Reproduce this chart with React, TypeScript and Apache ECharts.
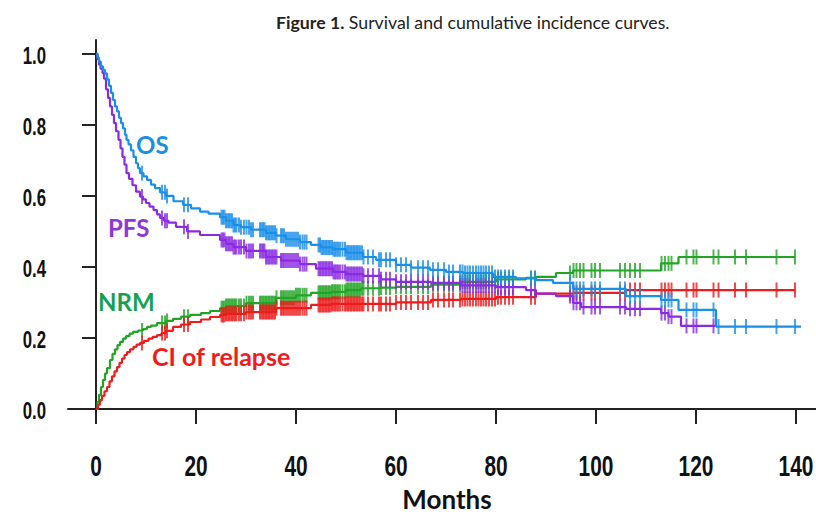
import React, { useEffect, useRef } from "react";
import * as echarts from "echarts";

const xTicks = [0, 20, 40, 60, 80, 100, 120, 140];
const yTicks = [0, 0.2, 0.4, 0.6, 0.8, 1.0];
const xTickLabels = ["0", "20", "40", "60", "80", "100", "120", "140"];
const yTickLabels = ["0.0", "0.2", "0.4", "0.6", "0.8", "1.0"];

const osData: [number, number][] = [
  [0, 1.0], [0.3, 0.99], [0.6, 0.978], [1, 0.965], [1.4, 0.955], [1.8, 0.945], [2.2, 0.928],
  [2.6, 0.91], [3, 0.89], [3.4, 0.87], [3.8, 0.852], [4.2, 0.838], [4.6, 0.82], [5, 0.805],
  [5.4, 0.79], [5.8, 0.772], [6.1, 0.758], [6.5, 0.745], [7, 0.728], [7.5, 0.71], [8, 0.692],
  [8.4, 0.678], [8.8, 0.664], [9.5, 0.655], [10.2, 0.645], [11, 0.632], [11.8, 0.622], [12.8, 0.61],
  [14, 0.6], [15.5, 0.585], [17.4, 0.575], [19, 0.565], [20.8, 0.556], [22.5, 0.55],
  [24.8, 0.54], [26, 0.53], [27.5, 0.518], [29, 0.512], [31, 0.505], [34, 0.496], [36, 0.488],
  [38, 0.478], [40.8, 0.47], [43, 0.462], [45, 0.455], [47.4, 0.45], [50, 0.44], [53.4, 0.428],
  [56, 0.42], [60, 0.406], [63, 0.398], [66.8, 0.392], [70, 0.386], [73.4, 0.383], [79.4, 0.372],
  [84, 0.368], [88, 0.363], [91.4, 0.355], [95.4, 0.338], [106, 0.318], [113, 0.307], [116.5, 0.279],
  [124, 0.232], [141, 0.232],
];

const pfsData: [number, number][] = [
  [0, 1.0], [0.3, 0.985], [0.6, 0.97], [0.9, 0.958], [1.3, 0.946], [1.6, 0.93], [2, 0.9],
  [2.4, 0.876], [2.8, 0.852], [3.2, 0.828], [3.6, 0.805], [4, 0.782], [4.5, 0.758], [4.9, 0.734],
  [5.3, 0.71], [5.7, 0.688], [6.1, 0.664], [6.6, 0.648], [7.3, 0.63], [8, 0.612], [8.8, 0.598],
  [9.4, 0.59], [10, 0.58], [10.7, 0.57], [11.5, 0.56], [12.2, 0.548], [12.8, 0.538], [13.6, 0.53],
  [14.5, 0.525], [16, 0.513], [18.2, 0.5], [20.8, 0.49], [24.8, 0.476], [26, 0.465],
  [27.5, 0.456], [30, 0.445], [34, 0.428], [37, 0.418], [40.8, 0.408], [44, 0.395], [47.4, 0.386],
  [50, 0.38], [53.4, 0.375], [57, 0.365], [60, 0.358], [67, 0.355], [73, 0.348], [80, 0.343],
  [86, 0.335], [88, 0.325], [92, 0.318], [95.4, 0.299], [97, 0.287], [106, 0.282], [113, 0.27],
  [114.5, 0.26], [117, 0.234], [124, 0.234],
];

const nrmData: [number, number][] = [
  [0, 0], [0.3, 0.02], [0.6, 0.04], [1, 0.062], [1.4, 0.082], [1.8, 0.1], [2.2, 0.115],
  [2.8, 0.138], [3.3, 0.155], [3.8, 0.168], [4.3, 0.18], [4.8, 0.189], [5.4, 0.198], [6, 0.205],
  [6.7, 0.212], [7.4, 0.217], [8.4, 0.221], [9.4, 0.225], [10.2, 0.231], [11, 0.235], [12.2, 0.242],
  [14, 0.248], [15.4, 0.254], [17, 0.26], [18.8, 0.265], [21, 0.27], [22.8, 0.276], [24.8, 0.284],
  [26, 0.29], [30, 0.298], [36, 0.313], [40, 0.32], [43, 0.327], [47, 0.33], [50, 0.335], [53, 0.34],
  [57, 0.342], [60, 0.344], [67, 0.35], [73, 0.358], [80, 0.365], [86, 0.369], [88, 0.372], [92, 0.383],
  [95.4, 0.39], [113, 0.41], [116.5, 0.428], [139.8, 0.428],
];

const relapseData: [number, number][] = [
  [0, 0], [0.4, 0.012], [0.8, 0.025], [1.2, 0.037], [1.7, 0.05], [2.2, 0.062], [2.7, 0.078],
  [3.2, 0.092], [3.7, 0.106], [4.2, 0.118], [4.7, 0.13], [5.2, 0.142], [5.7, 0.152], [6.2, 0.16],
  [6.8, 0.168], [7.5, 0.175], [8.1, 0.181], [8.8, 0.186], [9.6, 0.192], [10.5, 0.198], [11.3, 0.203],
  [12.2, 0.208], [13.1, 0.214], [14, 0.22], [15.4, 0.231], [17, 0.238], [18.8, 0.245], [21, 0.252],
  [22.8, 0.259], [24.8, 0.265], [26, 0.268], [30, 0.273], [36, 0.284], [43, 0.293], [47, 0.296],
  [60, 0.3], [67, 0.307], [73, 0.31], [80, 0.315], [88, 0.325], [95.4, 0.327], [106, 0.335],
  [139.8, 0.335],
];

const censorMonths = [
  9.2, 13.2, 13.8, 14.2, 17.6, 18.4,
  25.1, 25.4, 25.7, 26.0, 26.3, 26.6, 26.9, 27.2, 27.5, 27.8, 28.1, 28.6, 29.0, 29.6, 30.1, 30.6,
  31.0, 31.4, 32.8, 33.1, 33.4, 33.7, 34.0, 34.3, 34.6, 34.9, 35.2, 35.5, 35.8, 36.1, 37.0, 37.3,
  37.6, 38.0, 38.4, 38.8, 39.2, 39.6, 40.0, 40.4, 40.8, 41.3, 41.7, 42.1, 44.5, 44.8, 45.1, 45.4,
  45.7, 46.0, 46.3, 46.6, 46.9, 47.2, 47.5, 47.8, 48.1, 48.4, 48.8, 49.3, 49.8, 50.1, 50.4, 50.7,
  51.0, 51.3, 51.6, 51.9, 52.2, 52.5, 52.8, 53.2, 53.5, 54.4, 55.4, 56.6, 57.0, 58.0, 58.8, 60.0,
  61.0, 62.0, 63.0, 64.4, 65.4, 66.4, 67.4, 68.4, 69.6, 70.6, 71.4, 72.8, 73.3, 73.8, 74.3, 74.8,
  75.4, 76.0, 76.5, 77.0, 77.5, 78.0, 78.6, 79.2, 79.8, 80.4, 81.0, 81.8, 82.6, 83.4, 87.0, 87.8,
  94.8, 95.5, 96.1, 96.8, 97.5, 99.1, 99.8, 100.8, 104.8, 105.8, 106.8, 107.8, 108.8, 113.1, 113.8,
  114.5, 115.1, 118.1, 119.5, 120.1, 123.5, 124.5, 127.8, 130.0, 136.1, 139.8,
];

const seriesNames = ["NRM", "CI of relapse", "PFS", "OS"];
const seriesColors = ["#22a526", "#ee1c1c", "#8a2be2", "#1a8fe8"];
const labelColors = ["#14a152", "#ee1c1c", "#8e36d8", "#1a90e2"];

function stepAt(data: [number, number][], m: number): number {
  let v = data[0][1];
  for (const [x, y] of data) {
    if (x <= m) v = y;
    else break;
  }
  return v;
}

export default function App() {
  const ref = useRef<HTMLDivElement>(null);
  useEffect(() => {
    if (!ref.current) return;
    const chart = echarts.init(ref.current, undefined, { renderer: "svg" });
    const datasets = [nrmData, relapseData, pfsData, osData];
    const series: any[] = [];
    datasets.forEach((d, i) => {
      series.push({
        name: seriesNames[i],
        type: "line",
        step: "end",
        data: d,
        showSymbol: false,
        lineStyle: { color: seriesColors[i], width: 2.2 },
        z: 2 + i,
      });
    });
    datasets.forEach((d, i) => {
      const last = d[d.length - 1][0];
      series.push({
        name: seriesNames[i] + " censored",
        type: "scatter",
        symbol: "rect",
        symbolSize: [2, 15],
        itemStyle: { color: seriesColors[i] },
        data: censorMonths.filter((m) => m <= last).map((m) => [m, stepAt(d, m)]),
        z: 2 + i,
      });
    });

    const tickFont = "'Liberation Sans', Arial, sans-serif";
    const textFont = "Lato, 'Open Sans', sans-serif";

    const curveLabels = [
      { type: "text", left: 136, top: 132, style: { text: "OS", fill: labelColors[3], font: `bold 24px ${textFont}` } },
      { type: "text", left: 108, top: 215, style: { text: "PFS", fill: labelColors[2], font: `bold 24px ${textFont}` } },
      { type: "text", left: 98, top: 289, style: { text: "NRM", fill: labelColors[0], font: `bold 24px ${textFont}` } },
      { type: "text", left: 152, top: 343, style: { text: "CI of relapse", fill: labelColors[1], font: `bold 25px ${textFont}` } },
    ];

    chart.setOption({
      animation: false,
      backgroundColor: "#ffffff",
      title: {
        text: "{b|Figure 1.} Survival and cumulative incidence curves.",
        left: 271,
        top: 8,
        textStyle: {
          fontFamily: textFont,
          fontSize: 17.7,
          fontWeight: "normal",
          color: "#222",
          rich: { b: { fontFamily: textFont, fontSize: 17.7, fontWeight: "bold", color: "#222" } },
        },
      },
      grid: { left: 68, right: 0, top: 40, bottom: 95, outerBoundsMode: "none", containLabel: false },
      xAxis: {
        type: "value",
        min: -5.6,
        max: 144,
        name: "Months",
        nameLocation: "middle",
        nameGap: 64,
        nameTextStyle: { fontFamily: textFont, fontSize: 26, fontWeight: "bold", color: "#111", padding: [0, 0, 0, 10] },
        axisLine: { show: true, lineStyle: { color: "#222", width: 2 } },
        axisTick: { show: true, customValues: xTicks, length: 15, lineStyle: { color: "#222", width: 2 } },
        axisLabel: { show: false },
        splitLine: { show: false },
      },
      yAxis: {
        type: "value",
        min: -0.0366,
        max: 1.039,
        axisLine: { show: true, lineStyle: { color: "#222", width: 2 } },
        axisTick: { show: true, customValues: yTicks, length: 14, lineStyle: { color: "#222", width: 2 } },
        axisLabel: { show: false },
        splitLine: { show: false },
      },
      graphic: curveLabels,
      series,
    });

    const xLabelEls = xTicks.map((v, i) => ({
      type: "text",
      x: chart.convertToPixel({ xAxisIndex: 0 }, v) as number,
      y: 466,
      scaleX: 0.72,
      style: {
        text: xTickLabels[i],
        fill: "#111",
        font: `bold 29px ${tickFont}`,
        align: "center",
        verticalAlign: "middle",
      },
    }));
    const yLabelEls = yTicks.map((v, i) => ({
      type: "text",
      x: 46,
      y: (chart.convertToPixel({ yAxisIndex: 0 }, v) as number) + 1,
      scaleX: 0.7,
      style: {
        text: yTickLabels[i],
        fill: "#111",
        font: `bold 24px ${tickFont}`,
        align: "right",
        verticalAlign: "middle",
      },
    }));
    chart.setOption({ graphic: [...curveLabels, ...xLabelEls, ...yLabelEls] });

    return () => chart.dispose();
  }, []);
  return (
    <div
      ref={ref}
      style={{ position: "absolute", left: 0, top: 0, width: 816, height: 517, background: "#fff" }}
    />
  );
}
